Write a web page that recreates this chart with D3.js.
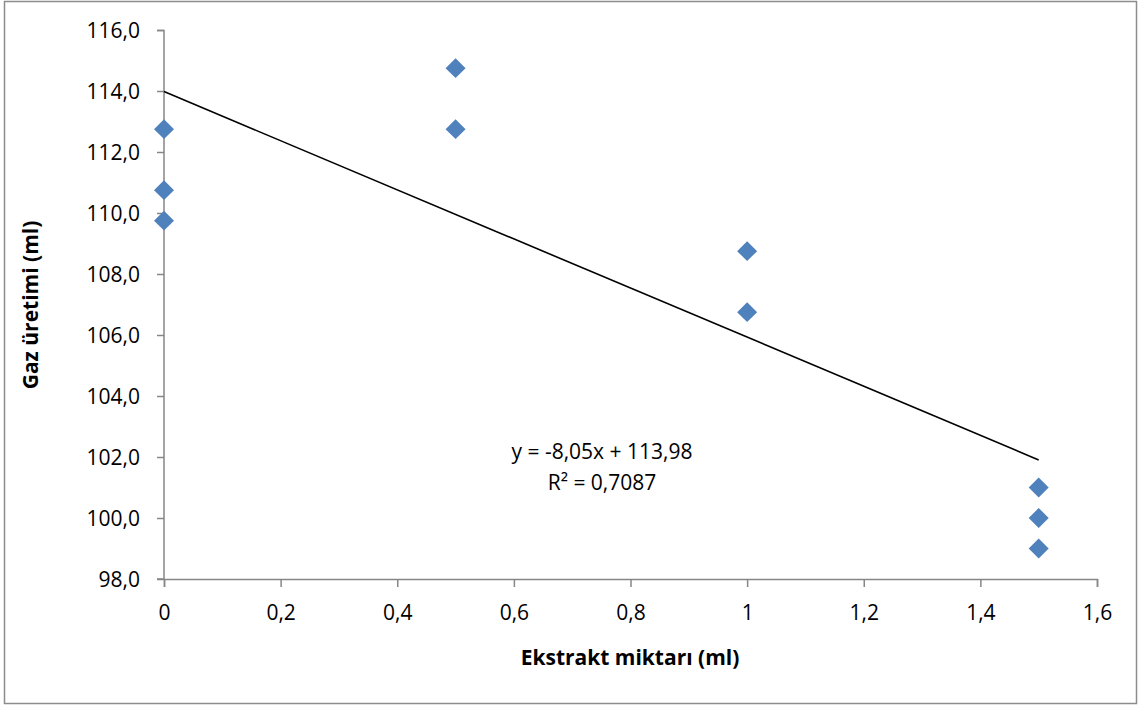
<!DOCTYPE html>
<html>
<head>
<meta charset="utf-8">
<script src="https://cdn.jsdelivr.net/npm/d3@7"></script>
<style>
  body { margin: 0; background: #fff; }
  svg text { font-family: "Open Sans", "Liberation Sans", sans-serif; fill: #000; }
</style>
</head>
<body>
<div id="chart"></div>
<script>
// data
var ekstrakt = [0, 0, 0, 0.5, 0.5, 1, 1, 1.5, 1.5, 1.5]
var gaz = [112.75, 110.75, 109.75, 114.75, 112.75, 108.75, 106.75, 101, 100, 99]
var xTicks = [0, 0.2, 0.4, 0.6, 0.8, 1, 1.2, 1.4, 1.6]
var yTicks = [98, 100, 102, 104, 106, 108, 110, 112, 114, 116]
var slope = -8.05, intercept = 113.98
var trendX = [0, 1.5]

const W = 1139, H = 706
const margin = { top: 30, right: 42, bottom: 127, left: 164 },
    width = W - margin.left - margin.right,
    height = H - margin.top - margin.bottom;

const root = d3.select("#chart").append("svg")
    .attr("width", W)
    .attr("height", H)

// outer frame
root.append("rect")
    .attr("x", 4.5).attr("y", 1.5)
    .attr("width", W - 7).attr("height", H - 4)
    .attr("fill", "none")
    .attr("stroke", "#8c8c8c")
    .attr("stroke-width", 1.5)

const svg = root.append("g")
    .attr("transform", `translate(${margin.left},${margin.top})`);

const x = d3.scaleLinear().domain([0, 1.6]).range([0, width])
const y = d3.scaleLinear().domain([98, 116]).range([height, 0])

const fmtX = d => d === 0 || d === 1 ? String(d) : d3.format(".1f")(d).replace(".", ",")
const fmtY = d => d3.format(".1f")(d).replace(".", ",")

// y axis
const gy = svg.append("g")
    .call(d3.axisLeft(y).tickValues(yTicks).tickSize(7).tickPadding(17).tickFormat(fmtY))
gy.select(".domain").attr("stroke", "#868686").attr("stroke-width", 1.5).attr("d", `M-7,0.5H0V${height}H-7`)
gy.selectAll(".tick line").attr("stroke", "#868686").attr("stroke-width", 1.5)
gy.selectAll("text").style("font-size", "21px").attr("dy", "0.35em")

// x axis
const gx = svg.append("g")
    .attr("transform", `translate(0,${height})`)
    .call(d3.axisBottom(x).tickValues(xTicks).tickSize(8).tickPadding(18).tickFormat(fmtX))
gx.select(".domain").attr("stroke", "#868686").attr("stroke-width", 1.5)
gx.selectAll(".tick line").attr("stroke", "#868686").attr("stroke-width", 1.5)
gx.selectAll("text").style("font-size", "21px")

// trend line
svg.append("line")
    .attr("x1", x(trendX[0])).attr("y1", y(slope * trendX[0] + intercept))
    .attr("x2", x(trendX[1])).attr("y2", y(slope * trendX[1] + intercept))
    .attr("stroke", "#000")
    .attr("stroke-width", 1.6)

// points
const diamond = d3.symbol().type(d3.symbolSquare).size(200)
svg.selectAll("path.pt")
    .data(ekstrakt)
    .enter()
    .append("path")
    .attr("class", "pt")
    .attr("d", diamond)
    .attr("transform", (d, i) => `translate(${x(d)},${y(gaz[i])}) rotate(45)`)
    .attr("fill", "#4f81bd")

// equation
svg.append("text")
    .attr("x", 602 - margin.left).attr("y", 459 - margin.top)
    .attr("text-anchor", "middle")
    .style("font-size", "21px")
    .text("y = -8,05x + 113,98")
svg.append("text")
    .attr("x", 602 - margin.left).attr("y", 490 - margin.top)
    .attr("text-anchor", "middle")
    .style("font-size", "21px")
    .text("R² = 0,7087")

// axis titles
root.append("text")
    .attr("x", 630).attr("y", 665)
    .attr("text-anchor", "middle")
    .style("font-size", "21px").style("font-weight", "bold")
    .text("Ekstrakt miktarı (ml)")
root.append("text")
    .attr("transform", "translate(38,305) rotate(-90)")
    .attr("text-anchor", "middle")
    .style("font-size", "21px").style("font-weight", "bold")
    .text("Gaz üretimi (ml)")
</script>
</body>
</html>
